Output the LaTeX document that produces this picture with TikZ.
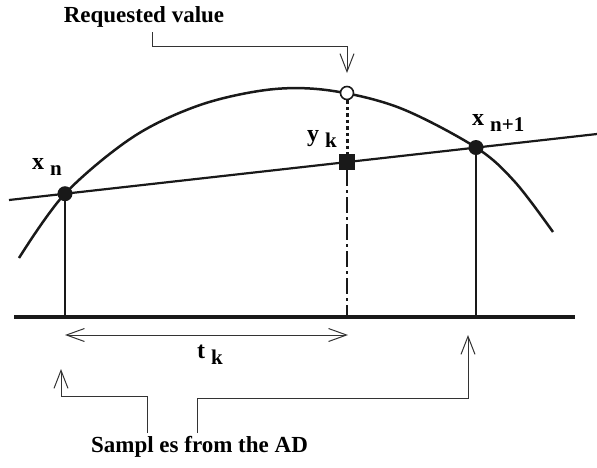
\documentclass[tikz,border=0pt]{standalone}
\usepackage{fontspec}
\setmainfont{Liberation Serif}
\usetikzlibrary{arrows.meta}
\newcommand{\mylab}[2]{#1\hspace{6pt}\raisebox{-6pt}{\fontsize{21}{21}\selectfont #2}}
\begin{document}
\begin{tikzpicture}[x=1pt,y=-1pt,
  inkcol/.style={draw=black!90},
  callout/.style={line width=1pt, draw=black!80, -{Straight Barb[length=18pt,width=14pt]}},
  dot/.style={circle, fill=black!90, inner sep=0pt, minimum size=15pt},
  lab/.style={anchor=base west, inner sep=0pt, font=\bfseries\fontsize{24}{24}\selectfont},
  txt/.style={anchor=base, inner sep=0pt, font=\bfseries\fontsize{23}{23}\selectfont},
]
\useasboundingbox (0,0) rectangle (597,467);

% axis
\coordinate (b1) at (14,317);
\coordinate (b2) at (575,317);
\coordinate (bn) at (65,317);
\coordinate (bk) at (347,317);
\coordinate (bm) at (476,317);
\draw[inkcol, line width=3.5pt] (b1) -- (b2);

% curve
\draw[inkcol, line width=2.5pt] plot[smooth, tension=0.55] coordinates {
 (19,258) (65,193.7) (133,137) (200,105) (270,89.5) (330,90.5) (400,108) (476,147.5) (515,182) (553,232)};

% straight line
\coordinate (L) at (9,200);
\coordinate (R) at (597,134);
\draw[inkcol, line width=2.2pt] (L) -- (R);

% points
\node[dot] (xn) at (65,193.7) {};
\node[dot] (xm) at (476,147.5) {};
\node[fill=black!90, inner sep=0pt, minimum size=16pt] (yk) at (347,162) {};
\node[circle, draw=black!90, fill=white, line width=1.6pt, inner sep=0pt, minimum size=13pt] (req) at (347,93) {};

% verticals
\draw[inkcol, line width=2.2pt] (xn.south) -- (bn);
\draw[inkcol, line width=2.2pt] (xm.south) -- (bm);
\draw[inkcol, line width=3pt, dash pattern=on 3.5pt off 3pt] (req.south) -- (yk.north);
\draw[inkcol, line width=2.5pt, dash pattern=on 16pt off 4pt on 3pt off 4pt] (yk.south) -- (bk);

% labels
\node[lab] (lxn) at (32,169) {\mylab{x}{n}};
\node[lab] (lyk) at (307,141) {\mylab{y}{k}};
\node[lab] (lxm) at (472,125) {\mylab{x}{n+1}};
\node[lab] (ltk) at (197,358) {\mylab{t}{k}};

% t_k arrow
\coordinate (t1) at (65,335);
\coordinate (t2) at (348,335);
\draw[line width=1pt, draw=black!80, {Straight Barb[length=18pt,width=13pt]}-{Straight Barb[length=18pt,width=13pt]}] (t1) -- (t2);

% requested value
\node[txt] (reqtext) at (144,22) {Requested value};
\coordinate (r1) at (152,32);
\coordinate (r2) at (347,73);
\draw[callout] (r1) -- (r1 |- 0,46) -- (r2 |- 0,46) -- (r2);

% samples
\node[txt] (samp) at (199.5,452) {Sampl es from the AD};
\coordinate (s1) at (147,433);
\coordinate (s2) at (61,369);
\coordinate (s3) at (197,433);
\coordinate (s4) at (468,335);
\draw[callout] (s1) -- (s1 |- 0,396) -- (s2 |- 0,396) -- (s2);
\draw[callout] (s3) -- (s3 |- 0,398) -- (s4 |- 0,398) -- (s4);
\end{tikzpicture}
\end{document}
